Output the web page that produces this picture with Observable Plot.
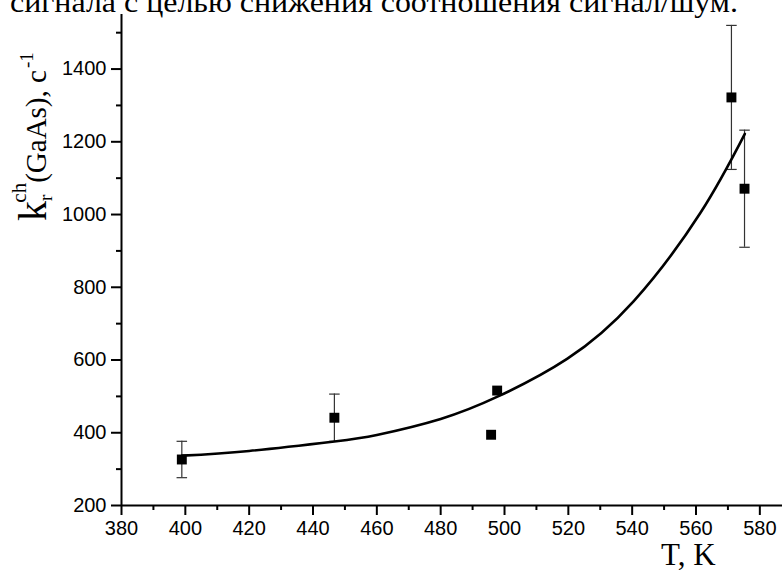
<!DOCTYPE html>
<html><head><meta charset="utf-8">
<script src="https://cdn.jsdelivr.net/npm/d3@7"></script>
<script src="https://cdn.jsdelivr.net/npm/@observablehq/plot@0.6"></script>
<style>html,body{margin:0;padding:0;background:#fff} svg{display:block}</style>
</head><body><div id="chart"></div>
<script>
// measured points
const pointT = [398.9, 446.7, 497.7, 495.8, 571.1, 575.2];
const pointK = [326.5, 441.3, 516, 394.5, 1322, 1071];
const pointErr = [50, 65, null, null, 198, 161];
// fitted curve
const fitT = [399, 420, 446.7, 460, 480, 498.5, 519.6, 540.5, 561.4, 575.3];
const fitK = [337, 350, 376, 394, 438, 502, 603, 762, 1005, 1222];
// ticks
const xMajorTicks = [380, 400, 420, 440, 460, 480, 500, 520, 540, 560, 580];
const xMinorTicks = [390, 410, 430, 450, 470, 490, 510, 530, 550, 570];
const yMajorTicks = [200, 400, 600, 800, 1000, 1200, 1400];
const yMinorTicks = [300, 500, 700, 900, 1100, 1300, 1500];
const topText = "сигнала с целью снижения соотношения сигнал/шум.";
const xLabel = "T, K";

const points = pointT.map((T, i) => ({T, k: pointK[i], err: pointErr[i]}));
const bars = points.filter(d => d.err != null);
const fit = fitT.map((T, i) => ({T, k: fitK[i]}));
const cap = 1.65;

const plot = Plot.plot({
  width: 782, height: 570,
  marginLeft: 121, marginRight: 0, marginTop: 14, marginBottom: 65,
  style: {fontFamily: "'Liberation Sans', Arial, sans-serif", fontSize: "20px", background: "#fff", color: "#000", overflow: "visible"},
  x: {domain: [380, 587.1], axis: null},
  y: {domain: [200, 1550], axis: null},
  marks: [
    Plot.axisX({ticks: xMinorTicks, tickSize: 5, strokeWidth: 2, tickFormat: () => "", label: null}),
    Plot.axisX({ticks: xMajorTicks, tickSize: 10, strokeWidth: 2, tickPadding: 5, tickFormat: d => String(d), label: null}),
    Plot.axisY({ticks: yMinorTicks, tickSize: 5, strokeWidth: 2, tickFormat: () => "", label: null}),
    Plot.axisY({ticks: yMajorTicks, tickSize: 10, strokeWidth: 2, tickPadding: 5, tickFormat: d => String(d), label: null}),
    Plot.ruleX([380], {stroke: "#000", strokeWidth: 2}),
    Plot.ruleY([200], {stroke: "#000", strokeWidth: 2}),
    Plot.ruleX(bars, {x: "T", y1: d => d.k - d.err, y2: d => d.k + d.err, stroke: "#333", strokeWidth: 1.2}),
    Plot.link(bars, {x1: d => d.T - cap, x2: d => d.T + cap, y1: d => d.k + d.err, y2: d => d.k + d.err, stroke: "#333", strokeWidth: 1.2}),
    Plot.link(bars, {x1: d => d.T - cap, x2: d => d.T + cap, y1: d => d.k - d.err, y2: d => d.k - d.err, stroke: "#333", strokeWidth: 1.2}),
    Plot.line(fit, {x: "T", y: "k", curve: "natural", stroke: "#000", strokeWidth: 2.6}),
    Plot.dot(points, {x: "T", y: "k", symbol: "square", r: 5.6, fill: "#000", stroke: "none"})
  ]
});

const svg = d3.select(plot);
const serif = "'Liberation Serif', 'Times New Roman', serif";
svg.append("text")
  .attr("x", 10).attr("y", 12)
  .attr("text-anchor", "start")
  .attr("font-family", serif)
  .attr("font-size", 30)
  .attr("textLength", 728)
  .attr("lengthAdjust", "spacingAndGlyphs")
  .text(topText);

svg.append("text")
  .attr("x", 661).attr("y", 565)
  .attr("text-anchor", "start")
  .attr("font-family", serif)
  .attr("font-size", 31)
  .text(xLabel);

const yl = svg.append("text")
  .attr("transform", "translate(46,221) rotate(-90)")
  .attr("text-anchor", "start")
  .attr("font-family", serif)
  .attr("font-size", 29);
yl.append("tspan").attr("font-size", 40).text("k");
yl.append("tspan").attr("font-size", 19).attr("dy", 6).text("r");
yl.append("tspan").attr("font-size", 21).attr("dx", -8).attr("dy", -26).text("ch");
yl.append("tspan").attr("dy", 20).text("(GaAs), c");
yl.append("tspan").attr("font-size", 19).attr("dx", 2).attr("dy", -13).text("-1");

document.getElementById("chart").appendChild(plot);
</script>
</body></html>
